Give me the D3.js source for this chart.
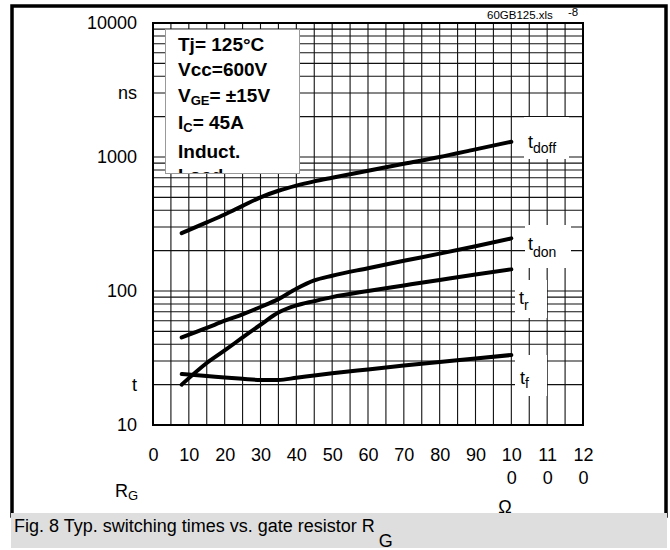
<!DOCTYPE html>
<head>
    <meta charset='utf-8'>
    <style>
        body {
            margin: 0;
            background: #fff;
            font-family: 'Liberation Sans', Arial, sans-serif;
        }
        text {
            font-family: 'Liberation Sans', Arial, sans-serif;
            fill: #000;
        }
        .grid line {
            stroke: #111;
            stroke-width: 1.1;
        }
        .curve {
            fill: none;
            stroke: #000;
            stroke-width: 4;
            stroke-linecap: round;
            stroke-linejoin: round;
        }
    </style>
</head>

<body>
<div id='vis'></div>
<script src='https://cdn.jsdelivr.net/npm/d3@7/dist/d3.min.js'></script>
<script>
  // gate resistor values (ohm) the curves are read at
  const rg = [8, 15, 20, 25, 30, 35, 40, 45, 50, 60, 70, 80, 90, 100]

  // switching times in ns
  const tdoff = [270, 325, 372, 432, 500, 560, 612, 658, 700, 790, 890, 1000, 1140, 1300]
  const tdon  = [45, 53, 60, 67, 76, 87, 104, 120, 130, 148, 168, 190, 216, 247]
  const tr    = [20, 29, 36, 45, 56, 69, 78, 84, 90, 100, 110, 121, 133, 145]
  const tf    = [24, 23.2, 22.6, 22.1, 21.7, 21.7, 22.5, 23.4, 24.3, 26, 27.8, 29.5, 31.4, 33.3]

  const xTicks = [0, 10, 20, 30, 40, 50, 60, 70, 80, 90, 100, 110, 120]
  const xTickLabels = ['0', '10', '20', '30', '40', '50', '60', '70', '80', '90', '100', '110', '120']
  const yTicks = [10000, 3000, 1000, 100, 20, 10]
  const yTickLabels = ['10000', 'ns', '1000', '100', 't', '10']

  const W = 670, H = 550

  const svg = d3.select('#vis')
    .append('svg')
    .attr('width', W)
    .attr('height', H)

  const x = d3.scaleLinear()
    .domain([0, 120])
    .range([153, 583])

  const y = d3.scaleLog()
    .domain([10, 10000])
    .range([425, 23])

  // outer frame
  svg.append('rect')
    .attr('x', 12).attr('y', 6)
    .attr('width', 654).attr('height', 510)
    .attr('fill', '#fff')
    .attr('stroke', '#000')
    .attr('stroke-width', 3.5)

  // file tag top right
  svg.append('text')
    .attr('x', 487).attr('y', 19)
    .attr('font-size', 11.5)
    .text('60GB125.xls')
  svg.append('text')
    .attr('x', 568).attr('y', 16)
    .attr('font-size', 11.5)
    .text('-8')

  // grid
  const grid = svg.append('g').attr('class', 'grid')
  grid.selectAll('.vline')
    .data(d3.range(0, 121, 5))
    .enter().append('line')
    .attr('x1', d => x(d)).attr('x2', d => x(d))
    .attr('y1', y(10)).attr('y2', y(10000))

  const hVals = []
  ;[10, 100, 1000].forEach(dec => {
    for (let k = 1; k < 10; k++) hVals.push(dec * k)
  })
  hVals.push(10000)
  grid.selectAll('.hline')
    .data(hVals)
    .enter().append('line')
    .attr('x1', x(0)).attr('x2', x(120))
    .attr('y1', d => y(d)).attr('y2', d => y(d))

  // plot border
  svg.append('rect')
    .attr('x', x(0)).attr('y', y(10000))
    .attr('width', x(120) - x(0))
    .attr('height', y(10) - y(10000))
    .attr('fill', 'none')
    .attr('stroke', '#000')
    .attr('stroke-width', 2)

  // white label boxes on the right
  const boxes = [
    [524, 117, 45, 42],
    [525, 225, 46, 43],
    [515, 280, 32, 38],
    [515, 355, 32, 41]
  ]
  svg.selectAll('.lbox')
    .data(boxes)
    .enter().append('rect')
    .attr('x', d => d[0]).attr('y', d => d[1])
    .attr('width', d => d[2]).attr('height', d => d[3])
    .attr('fill', '#fff')

  // curves
  const line = d3.line()
    .x(d => x(d[0]))
    .y(d => y(d[1]))
    .curve(d3.curveMonotoneX)

  const series = [tdoff, tdon, tr, tf]
  series.forEach(s => {
    svg.append('path')
      .attr('class', 'curve')
      .attr('d', line(rg.map((r, i) => [r, s[i]])))
  })

  // curve labels
  function subLabel(px, py, sub, subDy) {
    const t = svg.append('text')
      .attr('x', px).attr('y', py)
      .attr('font-size', 18)
    t.append('tspan').text('t')
    t.append('tspan')
      .attr('font-size', 14)
      .attr('dy', subDy)
      .text(sub)
  }
  subLabel(528, 148, 'doff', 5)
  subLabel(528, 250, 'don', 7)
  subLabel(519, 304, 'r', 6)
  subLabel(520, 384, 'f', 4)

  // y axis
  const yAxis = d3.axisLeft(y)
    .tickValues(yTicks)
    .tickFormat((d, i) => yTickLabels[i])
    .tickSize(0)
    .tickPadding(16)
  const yg = svg.append('g')
    .attr('transform', `translate(${x(0)},0)`)
    .call(yAxis)
  yg.select('.domain').remove()
  yg.selectAll('text')
    .attr('font-size', 18)
    .attr('font-family', "'Liberation Sans', Arial, sans-serif")
    .attr('fill', '#000')

  // x axis, labels wrapped after two characters
  const xAxis = d3.axisBottom(x)
    .tickValues(xTicks)
    .tickFormat((d, i) => xTickLabels[i])
    .tickSize(0)
  const xg = svg.append('g')
    .attr('transform', `translate(0,${y(10)})`)
    .call(xAxis)
  xg.select('.domain').remove()
  xg.selectAll('text')
    .attr('font-size', 18)
    .attr('font-family', "'Liberation Sans', Arial, sans-serif")
    .attr('fill', '#000')
    .attr('dy', null)
    .attr('y', 36)
    .each(function () {
      const el = d3.select(this)
      const s = el.text()
      el.text('')
      el.append('tspan').attr('x', 0).text(s.slice(0, 2))
      if (s.length > 2) {
        el.append('tspan').attr('x', 0).attr('dy', 23).text(s.slice(2))
      }
    })

  // axis titles
  const rgt = svg.append('text')
    .attr('x', 115).attr('y', 497)
    .attr('font-size', 18)
  rgt.append('tspan').text('R')
  rgt.append('tspan').attr('font-size', 13).attr('dy', 3).text('G')

  svg.append('text')
    .attr('x', 505).attr('y', 513)
    .attr('text-anchor', 'middle')
    .attr('font-size', 18)
    .text('\u03A9')

  // parameter box
  svg.append('clipPath').attr('id', 'legclip')
    .append('rect')
    .attr('x', 165).attr('y', 29).attr('width', 134).attr('height', 144)

  svg.append('rect')
    .attr('x', 165.5).attr('y', 29.5)
    .attr('width', 134).attr('height', 144)
    .attr('fill', '#fff')
    .attr('stroke', '#999')
    .attr('stroke-width', 1)

  const leg = svg.append('g')
    .attr('clip-path', 'url(#legclip)')
    .attr('font-size', 19)
    .attr('font-weight', 'bold')

  function legLine(py, parts) {
    const t = leg.append('text').attr('x', 178).attr('y', py)
    parts.forEach(p => {
      const sp = t.append('tspan').text(p[0])
      if (p[1]) sp.attr('font-size', 13).attr('dy', 3)
      if (p[2]) sp.attr('dy', -3)
    })
  }
  legLine(51, [['Tj= 125\u00B0C']])
  legLine(76, [['Vcc=600V']])
  legLine(102, [['V'], ['GE', 1], ['= \u00B115V', 0, 1]])
  legLine(129, [['I'], ['C', 1], ['= 45A', 0, 1]])
  legLine(158, [['Induct.']])
  legLine(182, [['Load']])

  // caption
  svg.append('rect')
    .attr('x', 11).attr('y', 513)
    .attr('width', 656).attr('height', 35)
    .attr('fill', '#dedede')

  const cap = svg.append('text')
    .attr('x', 14).attr('y', 532)
    .attr('font-size', 18)
  cap.append('tspan').text('Fig. 8 Typ. switching times vs. gate resistor R')
  cap.append('tspan').attr('dx', 4).attr('dy', 15).text('G')
</script>
</body>
